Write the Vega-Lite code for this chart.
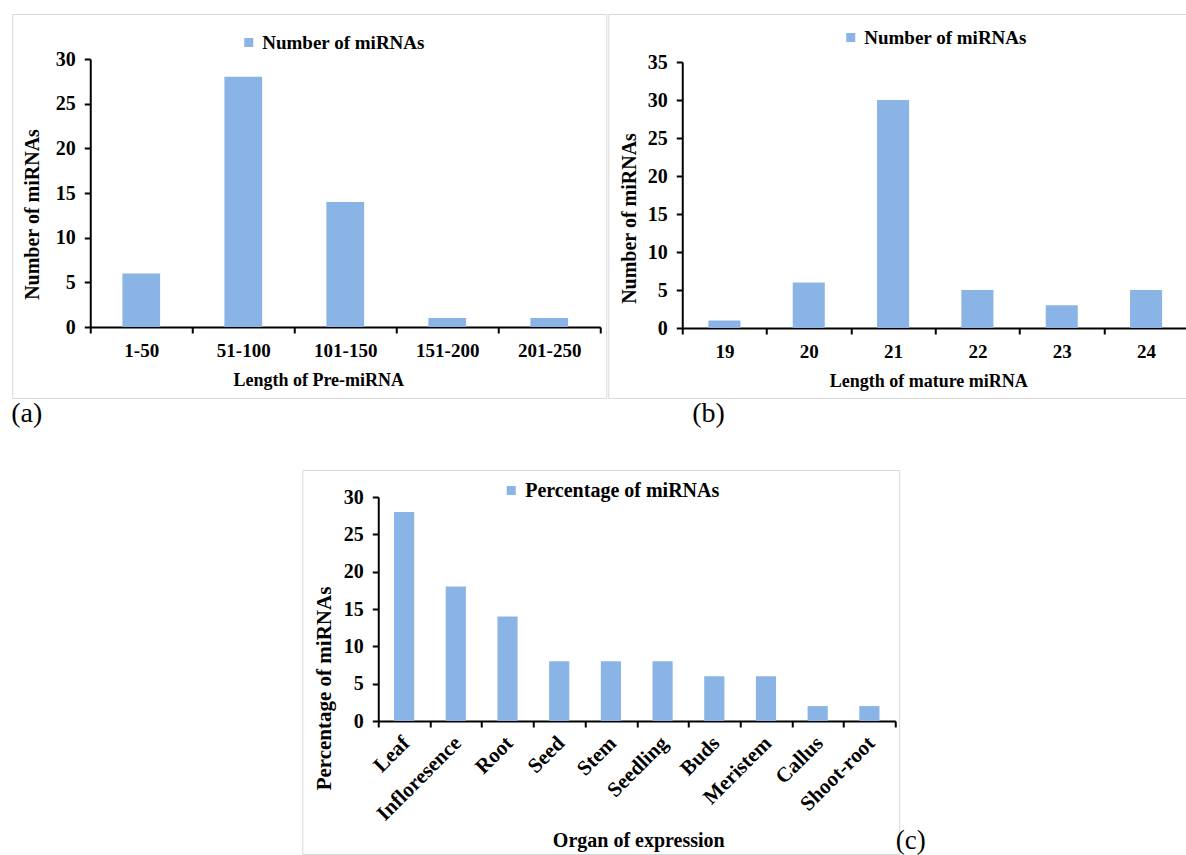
{
  "$schema": "https://vega.github.io/schema/vega-lite/v6.json",
  "padding": {"left": 10, "top": 13, "right": 0, "bottom": 0},
  "background": "white",
  "title": {"text": "(c)", "orient": "bottom", "anchor": "start", "offset": -27, "dx": 885, "baseline": "top", "fontSize": 27},
  "config": {
    "font": "Liberation Serif",
    "view": {"stroke": "#D9D9D9", "strokeWidth": 1},
    "axis": {
      "grid": false,
      "domainColor": "black",
      "domainWidth": 2,
      "tickColor": "black",
      "tickWidth": 2,
      "tickSize": 6,
      "labelFont": "Liberation Serif",
      "labelFontSize": 19,
      "labelFontWeight": "bold",
      "labelColor": "black",
      "titleFont": "Liberation Serif",
      "titleFontSize": 18,
      "titleFontWeight": "bold",
      "titleColor": "black"
    },
    "axisY": {"labelFontSize": 20, "labelPadding": 9, "titleFontSize": 20},
    "legend": {
      "padding": 0,
      "labelFont": "Liberation Serif",
      "labelFontSize": 19,
      "labelFontWeight": "bold",
      "labelColor": "black",
      "labelLimit": 400,
      "symbolType": "square",
      "symbolSize": 81,
      "symbolStrokeWidth": 0,
      "labelOffset": 4
    },
    "title": {"font": "Liberation Serif", "fontSize": 28, "fontWeight": "normal", "color": "black"}
  },
  "center": true,
  "spacing": 40,
  "resolve": {"scale": {"color": "independent"}, "legend": {"color": "independent"}},
  "vconcat": [
    {
      "spacing": 0,
      "resolve": {"scale": {"color": "independent"}, "legend": {"color": "independent"}},
      "hconcat": [
        {
          "width": 594,
          "height": 384,
          "title": {"text": "(a)", "orient": "bottom", "anchor": "start", "offset": 2, "dx": -1},
          "data": {"values": [
            {"len": "1-50", "n": 6},
            {"len": "51-100", "n": 28},
            {"len": "101-150", "n": 14},
            {"len": "151-200", "n": 1},
            {"len": "201-250", "n": 1}
          ]},
          "mark": {"type": "bar", "width": {"band": 0.37}},
          "encoding": {
            "x": {
              "field": "len", "type": "nominal", "sort": null,
              "scale": {"range": [78, 588], "paddingInner": 0, "paddingOuter": 0},
              "axis": {"title": "Length of Pre-miRNA", "offset": -71, "labelAngle": 0, "tickBand": "extent", "labelPadding": 8, "titleX": 306, "titleY": 53, "titleBaseline": "middle", "titleAlign": "center"}
            },
            "y": {
              "field": "n", "type": "quantitative",
              "scale": {"domain": [0, 30], "range": [313, 45], "nice": false, "zero": true},
              "axis": {"title": "Number of miRNAs", "offset": -78, "values": [0, 5, 10, 15, 20, 25, 30], "titleX": -58, "titleY": 200, "titleBaseline": "middle", "titleAlign": "center", "titleAngle": -90}
            },
            "color": {
              "datum": "Number of miRNAs",
              "scale": {"range": ["#8AB4E5"]},
              "legend": {"title": null, "orient": "none", "legendX": 227, "legendY": 19}
            }
          }
        },
        {
          "width": 580,
          "height": 384,
          "title": {"text": "(b)", "orient": "bottom", "anchor": "start", "offset": 2, "dx": 84},
          "data": {"values": [
            {"len": "19", "n": 1},
            {"len": "20", "n": 6},
            {"len": "21", "n": 30},
            {"len": "22", "n": 5},
            {"len": "23", "n": 3},
            {"len": "24", "n": 5}
          ]},
          "mark": {"type": "bar", "width": {"band": 0.38}},
          "encoding": {
            "x": {
              "field": "len", "type": "nominal", "sort": null,
              "scale": {"range": [74, 580], "paddingInner": 0, "paddingOuter": 0},
              "axis": {"title": "Length of mature miRNA", "offset": -70, "labelAngle": 0, "tickBand": "extent", "labelPadding": 8, "titleX": 320, "titleY": 53, "titleBaseline": "middle", "titleAlign": "center"}
            },
            "y": {
              "field": "n", "type": "quantitative",
              "scale": {"domain": [0, 35], "range": [314, 48], "nice": false, "zero": true},
              "axis": {"title": "Number of miRNAs", "offset": -74, "values": [0, 5, 10, 15, 20, 25, 30, 35], "titleX": -53, "titleY": 204, "titleBaseline": "middle", "titleAlign": "center", "titleAngle": -90}
            },
            "color": {
              "datum": "Number of miRNAs",
              "scale": {"range": ["#8AB4E5"]},
              "legend": {"title": null, "orient": "none", "legendX": 233, "legendY": 14}
            }
          }
        }
      ]
    },
    {
      "width": 597,
      "height": 384,
      "data": {"values": [
        {"organ": "Leaf", "p": 28},
        {"organ": "Infloresence", "p": 18},
        {"organ": "Root", "p": 14},
        {"organ": "Seed", "p": 8},
        {"organ": "Stem", "p": 8},
        {"organ": "Seedling", "p": 8},
        {"organ": "Buds", "p": 6},
        {"organ": "Meristem", "p": 6},
        {"organ": "Callus", "p": 2},
        {"organ": "Shoot-root", "p": 2}
      ]},
      "mark": {"type": "bar", "width": {"band": 0.39}},
      "encoding": {
        "x": {
          "field": "organ", "type": "nominal", "sort": null,
          "scale": {"range": [76, 593], "paddingInner": 0, "paddingOuter": 0},
          "axis": {"title": "Organ of expression", "offset": -133, "labelAngle": -45, "labelFontSize": 21, "labelOffset": -6, "tickBand": "extent", "labelPadding": 5, "titleFontSize": 20, "titleX": 336, "titleY": 119, "titleBaseline": "middle", "titleAlign": "center"}
        },
        "y": {
          "field": "p", "type": "quantitative",
          "scale": {"domain": [0, 30], "range": [251, 27], "nice": false, "zero": true},
          "axis": {"title": "Percentage of miRNAs", "offset": -76, "values": [0, 5, 10, 15, 20, 25, 30], "titleFontSize": 21, "titleX": -54, "titleY": 218, "titleBaseline": "middle", "titleAlign": "center", "titleAngle": -90}
        },
        "color": {
          "datum": "Percentage of miRNAs",
          "scale": {"range": ["#8AB4E5"]},
          "legend": {"title": null, "orient": "none", "legendX": 199, "legendY": 10.5, "labelFontSize": 20}
        }
      }
    }
  ]
}
